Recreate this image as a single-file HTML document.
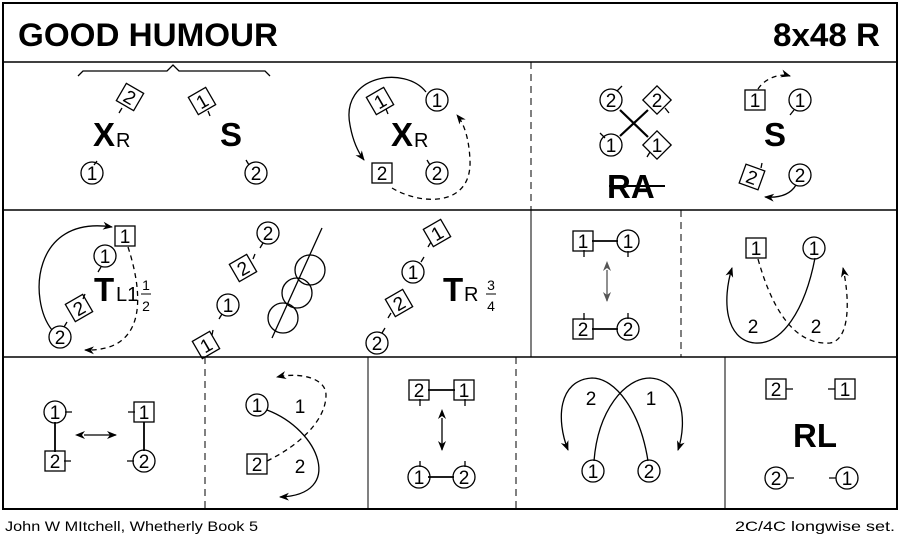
<!DOCTYPE html>
<html><head><meta charset="utf-8"><style>
html,body{margin:0;padding:0;background:#fff;}
svg{display:block;}
text{font-family:"Liberation Sans",sans-serif;}
</style></head><body>
<svg width="900" height="542" viewBox="0 0 900 542" xmlns="http://www.w3.org/2000/svg">
<defs>
<marker id="a" viewBox="0 0 10 8" refX="9" refY="4" markerWidth="10" markerHeight="8" markerUnits="userSpaceOnUse" orient="auto">
<path d="M0,0 L10,4 L0,8 L3,4 z" fill="#000"/></marker>
<marker id="as" viewBox="0 0 10 8" refX="1" refY="4" markerWidth="10" markerHeight="8" markerUnits="userSpaceOnUse" orient="auto-start-reverse">
<path d="M0,0 L10,4 L0,8 L3,4 z" fill="#000"/></marker>
<marker id="g" viewBox="0 0 10 8" refX="9" refY="4" markerWidth="10" markerHeight="8" markerUnits="userSpaceOnUse" orient="auto">
<path d="M0,0 L10,4 L0,8 L3,4 z" fill="#555"/></marker>
<marker id="gs" viewBox="0 0 10 8" refX="1" refY="4" markerWidth="10" markerHeight="8" markerUnits="userSpaceOnUse" orient="auto-start-reverse">
<path d="M0,0 L10,4 L0,8 L3,4 z" fill="#555"/></marker>
</defs>
<g fill="none" stroke="#000">
<rect x="3" y="3" width="894" height="506" stroke-width="2"/>
<line x1="3" y1="62" x2="897" y2="62" stroke-width="1.5"/>
<line x1="3" y1="210" x2="897" y2="210" stroke-width="1.5"/>
<line x1="3" y1="357" x2="897" y2="357" stroke-width="1.5"/>
<line x1="531" y1="62" x2="531" y2="210" stroke-dasharray="7,5"/>
<line x1="531" y1="210" x2="531" y2="357"/>
<line x1="681" y1="210" x2="681" y2="357" stroke-dasharray="7,5"/>
<line x1="205" y1="357" x2="205" y2="509" stroke-dasharray="7,5"/>
<line x1="368" y1="357" x2="368" y2="509"/>
<line x1="516" y1="357" x2="516" y2="509" stroke-dasharray="7,5"/>
<line x1="725" y1="357" x2="725" y2="509"/>
</g>
<text x="18" y="46" font-size="32" font-weight="bold" textLength="260" lengthAdjust="spacingAndGlyphs">GOOD HUMOUR</text>
<text x="773" y="46" font-size="32" font-weight="bold" textLength="107" lengthAdjust="spacingAndGlyphs">8x48 R</text>
<text x="5" y="531" font-size="14" textLength="253" lengthAdjust="spacingAndGlyphs">John W MItchell, Whetherly Book 5</text>
<text x="735" y="531" font-size="14" textLength="160" lengthAdjust="spacingAndGlyphs">2C/4C longwise set.</text>

<g fill="none" stroke="#000" stroke-width="1.3">
<path d="M78,76 L83,71 L167,71 L173,65 L179,71 L265,71 L270,76"/>
<path d="M122,108 L119,113 M208,111 L210,116 M97,161 L94,165 M246,160 L249,165"/>
<path d="M386,109 L388,114 M427,160 L430,165"/>
<path d="M426,92 C405,65 340,75 350,125 C353,142 358,152 364,160" marker-end="url(#a)"/>
<path d="M392,188 C420,205 472,208 470,160 C469,140 465,125 457,115" stroke-dasharray="5,4" marker-end="url(#a)"/>
<path d="M620,110 L648,137 M620,136 L648,110" stroke-width="2.2"/>
<path d="M617,91 L622,86 M665,108 L669,113 M605,138 L600,133 M650,152 L647,157"/>
<line x1="609" y1="186" x2="665" y2="186" stroke-width="2"/>
<path d="M758,89 C765,78 780,73 790,76" stroke-dasharray="5,4" marker-end="url(#a)"/>
<path d="M794,110 L790,115 M761,168 L762,163"/>
<path d="M796,185 C790,195 778,198 765,197" marker-end="url(#a)"/>
<path d="M52,330 C28,300 32,215 112,227" marker-end="url(#a)"/>
<path d="M128,247 C142,290 150,352 85,350" stroke-dasharray="5,4" marker-end="url(#a)"/>
<path d="M101,267 L98,272 M83,299 L85,294 M64,327 L67,322"/>
<path d="M263,243 L260,248 M253,259 L255,254 M222,314 L219,319 M212,335 L213,330"/>
<circle cx="310" cy="270" r="15"/><circle cx="297" cy="293" r="15"/><circle cx="283" cy="318" r="15"/>
<path d="M322,228 L272,338"/>
<path d="M431,242 L428,247 M421,262 L424,257 M391,313 L388,318 M382,333 L385,328"/>
<path d="M592,241 L618,241 M592,329 L618,329" stroke-width="1.8"/>
<path d="M584,250 L584,257 M628,251 L628,257 M584,320 L584,313 M628,319 L628,313"/>
<line x1="607" y1="270" x2="607" y2="301" stroke="#555" marker-end="url(#g)" marker-start="url(#gs)"/>
<path d="M815,258 C805,310 782,345 755,343 C725,340 722,300 732,268" marker-end="url(#a)"/>
<path d="M758,259 C775,320 800,345 830,343 C850,340 850,300 843,268" stroke-dasharray="5,4" marker-end="url(#a)"/>
<path d="M55,422 L55,452 M144,422 L144,451" stroke-width="1.8"/>
<path d="M65,412 L72,412 M64,461 L71,461 M135,412 L128,412 M134,461 L127,461"/>
<line x1="84" y1="435" x2="116" y2="435" marker-end="url(#a)" marker-start="url(#as)"/>
<path d="M267,410 C320,430 345,495 280,497" marker-end="url(#a)"/>
<path d="M267,461 C300,445 326,420 326,395 C326,378 300,372 277,377" stroke-dasharray="5,4" marker-end="url(#a)"/>
<path d="M428,390 L455,390 M428,477 L454,477" stroke-width="1.8"/>
<path d="M420,399 L420,406 M465,399 L465,406 M420,467 L420,461 M465,467 L465,461"/>
<line x1="442" y1="418" x2="442" y2="450" marker-end="url(#a)" marker-start="url(#as)"/>
<path d="M594,461 C598,410 625,378 650,378 C682,380 688,420 678,450" marker-end="url(#a)"/>
<path d="M648,461 C640,410 615,378 592,378 C558,380 556,420 568,450" marker-end="url(#a)"/>
<path d="M786,389 L793,389 M835,389 L828,389 M787,478 L794,478 M836,478 L829,478"/>
</g>

<g font-size="19" text-anchor="middle">
<g fill="none" stroke="#000" stroke-width="1.3">
<circle cx="92" cy="173" r="11"/><circle cx="256" cy="173" r="11"/>
<circle cx="437" cy="100" r="11"/><circle cx="437" cy="173" r="11"/>
<circle cx="611" cy="100" r="11"/><circle cx="611" cy="145" r="11"/>
<circle cx="800" cy="100" r="11"/><circle cx="800" cy="175" r="11"/>
<circle cx="105" cy="256" r="11"/><circle cx="60" cy="337" r="11"/>
<circle cx="268" cy="233" r="11"/><circle cx="228" cy="305" r="11"/>
<circle cx="413" cy="272" r="11"/><circle cx="377" cy="343" r="11"/>
<circle cx="628" cy="241" r="11"/><circle cx="628" cy="329" r="11"/>
<circle cx="814" cy="248" r="11"/>
<circle cx="55" cy="412" r="11"/><circle cx="144" cy="461" r="11"/>
<circle cx="257" cy="405" r="11"/>
<circle cx="419" cy="477" r="11"/><circle cx="464" cy="477" r="11"/>
<circle cx="593" cy="471" r="11"/><circle cx="649" cy="471" r="11"/>
<circle cx="776" cy="478" r="11"/><circle cx="847" cy="478" r="11"/>
<rect x="372" y="163" width="20" height="20"/>
<rect x="745" y="90" width="20" height="20"/>
<rect x="115" y="226" width="20" height="20"/>
<rect x="573" y="231" width="20" height="20"/><rect x="573" y="319" width="20" height="20"/>
<rect x="746" y="238" width="20" height="20"/>
<rect x="45" y="451" width="20" height="20"/><rect x="134" y="402" width="20" height="20"/>
<rect x="247" y="454" width="20" height="20"/>
<rect x="409" y="380" width="20" height="20"/><rect x="454" y="380" width="20" height="20"/>
<rect x="766" y="379" width="20" height="20"/><rect x="835" y="379" width="20" height="20"/>
</g>
<text x="92" y="180">1</text><text x="256" y="180">2</text>
<text x="437" y="107">1</text><text x="437" y="180">2</text>
<text x="611" y="107">2</text><text x="611" y="152">1</text>
<text x="800" y="107">1</text><text x="800" y="182">2</text>
<text x="105" y="263">1</text><text x="60" y="344">2</text>
<text x="268" y="240">2</text><text x="228" y="312">1</text>
<text x="413" y="279">1</text><text x="377" y="350">2</text>
<text x="628" y="248">1</text><text x="628" y="336">2</text>
<text x="814" y="255">1</text>
<text x="55" y="419">1</text><text x="144" y="468">2</text>
<text x="257" y="412">1</text>
<text x="419" y="484">1</text><text x="464" y="484">2</text>
<text x="593" y="478">1</text><text x="649" y="478">2</text>
<text x="776" y="485">2</text><text x="847" y="485">1</text>
<text x="382" y="180">2</text>
<text x="755" y="107">1</text>
<text x="125" y="243">1</text>
<text x="583" y="248">1</text><text x="583" y="336">2</text>
<text x="756" y="255">1</text>
<text x="55" y="468">2</text><text x="144" y="419">1</text>
<text x="257" y="471">2</text>
<text x="419" y="397">2</text><text x="464" y="397">1</text>
<text x="776" y="396">2</text><text x="845" y="396">1</text>
<text x="753" y="333">2</text><text x="816" y="333">2</text>
<text x="300" y="413">1</text><text x="300" y="473">2</text>
<text x="591" y="405">2</text><text x="651" y="405">1</text>
<g transform="translate(130,97) rotate(30)"><rect x="-10" y="-10" width="20" height="20" fill="none" stroke="#000" stroke-width="1.3"/><text y="7">2</text></g>
<g transform="translate(202,101) rotate(-30)"><rect x="-10" y="-10" width="20" height="20" fill="none" stroke="#000" stroke-width="1.3"/><text y="7">1</text></g>
<g transform="translate(380,101) rotate(-30)"><rect x="-10" y="-10" width="20" height="20" fill="none" stroke="#000" stroke-width="1.3"/><text y="7">1</text></g>
<g transform="translate(657,100) rotate(45)"><rect x="-10" y="-10" width="20" height="20" fill="none" stroke="#000" stroke-width="1.3"/><text y="7" transform="rotate(-45)">2</text></g>
<g transform="translate(657,145) rotate(45)"><rect x="-10" y="-10" width="20" height="20" fill="none" stroke="#000" stroke-width="1.3"/><text y="7" transform="rotate(-45)">1</text></g>
<g transform="translate(752,177) rotate(20)"><rect x="-10" y="-10" width="20" height="20" fill="none" stroke="#000" stroke-width="1.3"/><text y="7">2</text></g>
<g transform="translate(79,308) rotate(-30)"><rect x="-10" y="-10" width="20" height="20" fill="none" stroke="#000" stroke-width="1.3"/><text y="7">2</text></g>
<g transform="translate(243,268) rotate(-30)"><rect x="-10" y="-10" width="20" height="20" fill="none" stroke="#000" stroke-width="1.3"/><text y="7">2</text></g>
<g transform="translate(206,345) rotate(-30)"><rect x="-10" y="-10" width="20" height="20" fill="none" stroke="#000" stroke-width="1.3"/><text y="7">1</text></g>
<g transform="translate(437,233) rotate(-30)"><rect x="-10" y="-10" width="20" height="20" fill="none" stroke="#000" stroke-width="1.3"/><text y="7">1</text></g>
<g transform="translate(399,303) rotate(-30)"><rect x="-10" y="-10" width="20" height="20" fill="none" stroke="#000" stroke-width="1.3"/><text y="7">2</text></g>
</g>

<g font-weight="bold" font-size="33">
<text x="93" y="146">X</text><text x="220" y="146">S</text>
<text x="391" y="146">X</text>
<text x="607" y="198">RA</text>
<text x="764" y="146">S</text>
<text x="94" y="301">T</text>
<text x="443" y="301">T</text>
<text x="793" y="447">RL</text>
</g>
<g font-size="20">
<text x="116" y="147">R</text><text x="414" y="147">R</text>
<text x="116" y="301">L1</text>
<text x="464" y="301">R</text>
</g>
<g font-size="14" text-anchor="middle">
<text x="146" y="290">1</text><text x="146" y="311">2</text>
<text x="491" y="290">3</text><text x="491" y="311">4</text>
</g>
<path d="M141,294 L151,294 M486,294 L496,294" stroke="#000" stroke-width="1"/>
</svg>
</body></html>
